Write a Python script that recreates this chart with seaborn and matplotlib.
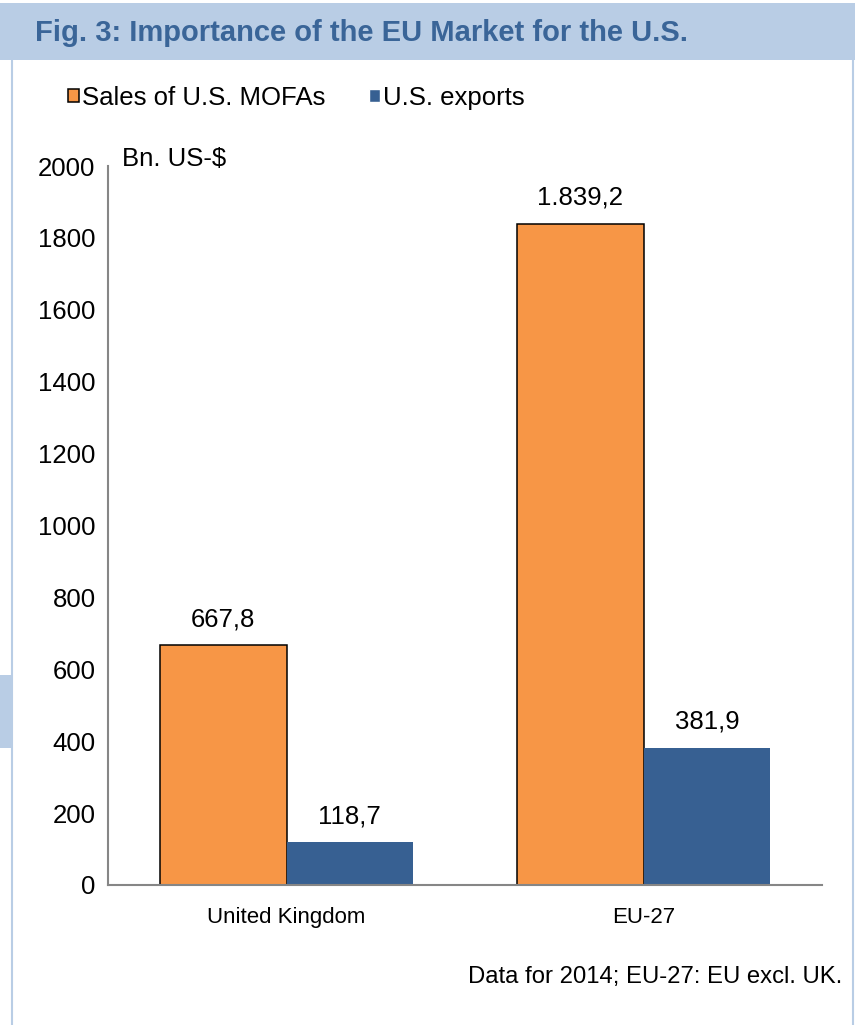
import matplotlib
matplotlib.use("Agg")
import matplotlib.pyplot as plt
from matplotlib.patches import Rectangle
import seaborn as sns
import pandas as pd

regions = ["United Kingdom", "EU-27"]
series = ["Sales of U.S. MOFAs", "U.S. exports"]
mofa_sales = [667.8, 1839.2]
us_exports = [118.7, 381.9]
value_labels = [["667,8", "1.839,2"], ["118,7", "381,9"]]
yticks = [0, 200, 400, 600, 800, 1000, 1200, 1400, 1600, 1800, 2000]

ORANGE = "#F79646"
BLUE = "#376092"
BAND = "#B9CDE5"
TITLE_BLUE = "#3A6598"
AXIS_GREY = "#868686"

df = pd.DataFrame({
    "region": regions * 2,
    "value": mofa_sales + us_exports,
    "series": [series[0]] * 2 + [series[1]] * 2,
})

sns.set_style("white")
plt.rcParams["font.family"] = ["Liberation Sans", "DejaVu Sans"]
plt.rcParams["text.color"] = "black"
plt.rcParams["xtick.labelcolor"] = "black"
plt.rcParams["ytick.labelcolor"] = "black"

fig = plt.figure(figsize=(8.55, 10.25), dpi=100)
W, H = 855, 1025

# title band and frame
fig.patches.append(Rectangle((0, 1 - 60 / H), 1, 57 / H, transform=fig.transFigure,
                             facecolor=BAND, edgecolor="none", zorder=0))
fig.patches.append(Rectangle((0, 1 - 748 / H), 12 / W, 73 / H, transform=fig.transFigure,
                             facecolor=BAND, edgecolor="none", zorder=0))
for xpix in (12, 853):
    fig.add_artist(plt.Line2D([xpix / W, xpix / W], [0, 1 - 60 / H], transform=fig.transFigure,
                              color=BAND, lw=1.5))
fig.text(35 / W, 1 - 33 / H, "Fig. 3: Importance of the EU Market for the U.S.",
         fontweight="bold", fontsize=21, color=TITLE_BLUE, ha="left", va="center")

ax = fig.add_axes([108 / W, 1 - 885 / H, (822 - 108) / W, (885 - 166) / H])
sns.barplot(data=df, x="region", y="value", hue="series", palette=[ORANGE, BLUE],
            width=0.71, saturation=1, ax=ax, legend=True)

for patch in ax.containers[0]:
    patch.set_edgecolor("black")
    patch.set_linewidth(1.1)
for patch in ax.containers[1]:
    patch.set_edgecolor("none")

for cont, labels in zip(ax.containers, value_labels):
    ax.bar_label(cont, labels=labels, padding=10, fontsize=18.5, color="black")

ax.set_ylim(0, 2000)
ax.set_xlim(-0.5, 1.5)
ax.set_yticks(yticks)
ax.set_yticklabels([str(t) for t in yticks], fontsize=18.5)
ax.set_xticks([0, 1])
ax.set_xticklabels(regions, fontsize=16)
ax.set_xticks([-0.5, 0.5, 1.5], minor=True)
ax.tick_params(axis="x", which="major", length=0, pad=16)
ax.tick_params(axis="x", which="minor", length=6, width=1.2, color=AXIS_GREY, direction="out")
ax.tick_params(axis="y", length=6, width=1.2, color=AXIS_GREY, direction="out", pad=3)
ax.set_xlabel("")
ax.set_ylabel("")
for side in ("top", "right"):
    ax.spines[side].set_visible(False)
for side in ("left", "bottom"):
    ax.spines[side].set_color(AXIS_GREY)
    ax.spines[side].set_linewidth(1.5)

ax.text(14 / (822 - 108), 1.01, "Bn. US-$", transform=ax.transAxes, fontsize=18.5,
        ha="left", va="center")

handles, labels = ax.get_legend_handles_labels()
ax.get_legend().remove()
leg = fig.legend(handles, labels, loc="center left", bbox_to_anchor=(58 / W, 1 - 98 / H),
                 ncol=2, frameon=False, fontsize=18.5, handlelength=0.42, handleheight=0.42,
                 handletextpad=0.12, columnspacing=1.7, borderaxespad=0)
leg_handles = getattr(leg, "legend_handles", None) or leg.legendHandles
leg_handles[0].set_edgecolor("black")
leg_handles[0].set_linewidth(1.1)

fig.text(842 / W, 1 - 977 / H, "Data for 2014; EU-27: EU excl. UK.",
         fontsize=17.2, ha="right", va="center")

fig.savefig("out.png", dpi=100)
